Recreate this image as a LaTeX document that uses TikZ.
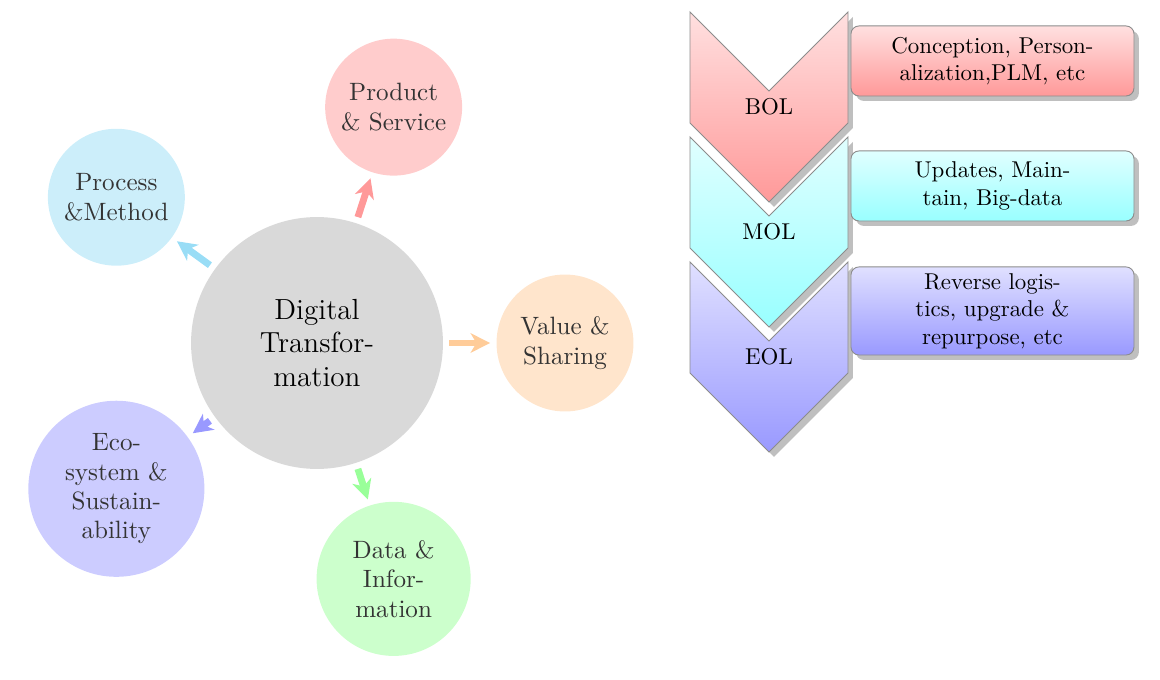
\documentclass[tikz,border=0pt]{standalone}
\usepackage{tikz}
\usetikzlibrary{arrows.meta,positioning,shadows}

\definecolor{procFill}{HTML}{CCEEFA}
\definecolor{procLink}{HTML}{99DDF6}
\definecolor{bolTop}{HTML}{FFE0E0}
\definecolor{bolBot}{HTML}{FF9999}
\definecolor{molTop}{HTML}{E0FFFF}
\definecolor{molBot}{HTML}{99FFFF}
\definecolor{eolTop}{HTML}{E0E0FF}
\definecolor{eolBot}{HTML}{9999FF}

\begin{document}
\begin{tikzpicture}[
    x=0.4367pt, y=0.4367pt,
    hub/.style={circle, fill=gray!30, inner sep=0pt, minimum size=110pt, text width=62pt, align=center, font=\fontsize{12.7}{14.8}\selectfont},
    topic/.style={circle, inner sep=0pt, minimum size=59.8pt, text width=52pt, align=center, text=black!80, font=\fontsize{10.95}{12.8}\selectfont},
    link/.style={-{Stealth[length=8.5pt, width=8.5pt, inset=2.5pt]}, line width=3pt, shorten <=2.6pt, shorten >=2.6pt},
    phase/.style={draw=black!45, line width=0.4pt, drop shadow},
    phaselabel/.style={minimum width=69pt, minimum height=83pt, inner sep=0pt},
    desc/.style={draw=black!45, line width=0.4pt, rounded corners=3.5pt, text width=90pt, align=center, inner xsep=16.8pt, inner ysep=2.8pt, minimum height=30.6pt, drop shadow}
  ]
    \useasboundingbox (0,0) rectangle (1160,679);

    % digital transformation and its five topics
    \node[hub] (dt) at (317,336) {Digital Transformation};
    \node[topic, fill=red!20] (product) at ([shift={(72:248)}]dt) {Product \& Service};
    \node[topic, fill=procFill] (process) at ([shift={(144:248)}]dt) {Process \&Method};
    \node[topic, fill=blue!20, minimum size=76.9pt, text width=48pt] (eco) at ([shift={(216:248)}]dt) {\hspace{0pt}Eco\-system \& Sustainability};
    \node[topic, fill=green!20, minimum size=67.3pt] (data) at ([shift={(288:248)}]dt) {Data \& Information};
    \node[topic, fill=orange!20] (value) at ([shift={(0:248)}]dt) {Value \& Sharing};

    \draw[link, red!40] (dt) -- (product);
    \draw[link, procLink] (dt) -- (process);
    \draw[link, blue!40] (dt) -- (eco);
    \draw[link, green!40] (dt) -- (data);
    \draw[link, orange!40] (dt) -- (value);

    % life cycle phases
    \coordinate (bolc) at (769,572);
    \coordinate (molc) at (769,447);
    \coordinate (eolc) at (769,322);

    \path[phase, top color=bolTop, bottom color=bolBot] ([shift={(-79,95)}]bolc) -- ++(79,-79) -- ++(79,79) -- ++(0,-111) -- ++(-79,-79) -- ++(-79,79) -- cycle;
    \node[phaselabel] (bol) at (bolc) {BOL};
    \node[desc, top color=bolTop, bottom color=bolBot, right=0.9pt of bol, yshift=20.1pt] (bolinfo) {Conception, Personalization,PLM, etc};

    \path[phase, top color=molTop, bottom color=molBot] ([shift={(-79,95)}]molc) -- ++(79,-79) -- ++(79,79) -- ++(0,-111) -- ++(-79,-79) -- ++(-79,79) -- cycle;
    \node[phaselabel] (mol) at (molc) {MOL};
    \node[desc, top color=molTop, bottom color=molBot, right=0.9pt of mol, yshift=20.1pt] (molinfo) {Updates, Maintain, Big-data};

    \path[phase, top color=eolTop, bottom color=eolBot] ([shift={(-79,95)}]eolc) -- ++(79,-79) -- ++(79,79) -- ++(0,-111) -- ++(-79,-79) -- ++(-79,79) -- cycle;
    \node[phaselabel] (eol) at (eolc) {EOL};
    \node[desc, top color=eolTop, bottom color=eolBot, right=0.9pt of eol, yshift=20.1pt] (eolinfo) {Reverse logistics, upgrade \& repurpose, etc};
\end{tikzpicture}
\end{document}
